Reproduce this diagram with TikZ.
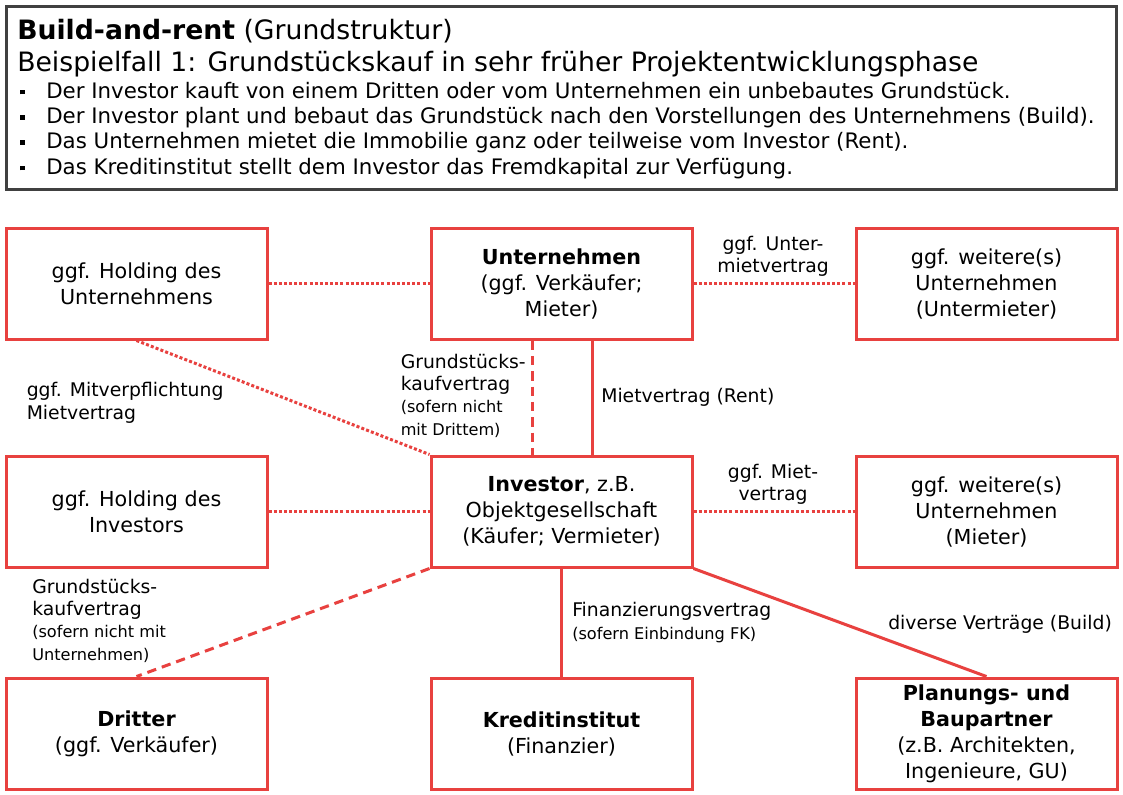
\documentclass[tikz,border=0pt]{standalone}
\usepackage{fontspec}
\setmainfont{DejaVu Sans}
\definecolor{cred}{HTML}{E8413F}
\definecolor{cframe}{HTML}{404040}
\newcommand{\myboxfont}{\fontsize{15.5}{19.5}\selectfont}
\newcommand{\mylabfont}{\fontsize{14.1}{16.6}\selectfont}
\newcommand{\mysmfont}{\fontsize{12.1}{14.5}\selectfont}
\newcommand{\mytitlefont}{\fontsize{20}{24}\selectfont}
\newcommand{\mybulfont}{\fontsize{16}{19}\selectfont}
\newcommand{\mybul}{\makebox[19.5pt][l]{\rule[2.8pt]{3.5pt}{3.5pt}}}
\begin{document}
\begin{tikzpicture}[x=0.75pt,y=-0.75pt,
  box/.style={draw=cred,line width=2.25pt,minimum width=195.75pt,minimum height=83.25pt,inner sep=0pt,align=center,font=\myboxfont},
  con/.style={draw=cred,line width=2.25pt},
  dotline/.style={con,dash pattern=on 2.25pt off 1.6pt},
  dashline/.style={con,dash pattern=on 7pt off 4.5pt},
  lab/.style={inner sep=0pt,align=left,font=\mylabfont},
  labc/.style={inner sep=0pt,align=center,font=\mylabfont},
  hd/.style={inner sep=0pt,anchor=base west}]
\useasboundingbox[fill=white] (0,0) rectangle (1123,794);

% header
\draw[cframe,line width=2.25pt] (6.5,6.5) rectangle (1116.5,189.5);
\node[hd,font=\mytitlefont] (t1) at (17,39) {\textbf{Build-and-rent} (Grundstruktur)};
\node[hd,font=\mytitlefont] (t2) at (17,71) {Beispielfall 1: Grundstückskauf in sehr früher Projektentwicklungsphase};
\node[hd,font=\mybulfont] (b1) at (20,98) {\mybul Der Investor kauft von einem Dritten oder vom Unternehmen ein unbebautes Grundstück.};
\node[hd,font=\mybulfont] (b2) at (20,123.3) {\mybul Der Investor plant und bebaut das Grundstück nach den Vorstellungen des Unternehmens (Build).};
\node[hd,font=\mybulfont] (b3) at (20,148.6) {\mybul Das Unternehmen mietet die Immobilie ganz oder teilweise vom Investor (Rent).};
\node[hd,font=\mybulfont] (b4) at (20,174) {\mybul Das Kreditinstitut stellt dem Investor das Fremdkapital zur Verfügung.};

% boxes
\node[box] (holdu) at (136.5,283.5) {ggf. Holding des\\Unternehmens};
\node[box] (unt) at (561.5,283.5) {\textbf{Unternehmen}\\(ggf. Verkäufer;\\Mieter)};
\node[box] (weitu) at (986.5,283.5) {ggf. weitere(s)\\Unternehmen\\(Untermieter)};
\node[box] (holdi) at (136.5,511.5) {ggf. Holding des\\Investors};
\node[box] (inv) at (561.5,511.5) {\textbf{Investor}, z.B.\\Objektgesellschaft\\(Käufer; Vermieter)};
\node[box] (weitm) at (986.5,511.5) {ggf. weitere(s)\\Unternehmen\\(Mieter)};
\node[box] (dritter) at (136.5,733.5) {\textbf{Dritter}\\(ggf. Verkäufer)};
\node[box] (kredit) at (561.5,733.5) {\textbf{Kreditinstitut}\\(Finanzier)};
\node[box] (plan) at (986.5,733.5) {\textbf{Planungs- und}\\\textbf{Baupartner}\\(z.B. Architekten,\\Ingenieure, GU)};

% connectors
\draw[dotline] (holdu.east) -- (unt.west);
\draw[dotline] (unt.east) -- (weitu.west);
\draw[dotline] (holdi.east) -- (inv.west);
\draw[dotline] (inv.east) -- (weitm.west);
\draw[dotline] (holdu.south) -- (inv.north west);
\draw[dashline] ([xshift=-22pt]unt.south) -- ([xshift=-22pt]inv.north);
\draw[con] ([xshift=23pt]unt.south) -- ([xshift=23pt]inv.north);
\draw[dashline] (inv.south west) -- (dritter.north);
\draw[con] (inv.south) -- (kredit.north);
\draw[con] (inv.south east) -- (plan.north);

% labels (base anchor = baseline of last line)
\node[lab,anchor=base west] (lmit) at (26.5,419) {ggf. Mitverpflichtung\\Mietvertrag};
\node[lab,anchor=base west] (lgk) at (400.5,435) {Grundstücks-\\kaufvertrag\\\mysmfont (sofern nicht\\\mysmfont mit Drittem)};
\node[lab,anchor=base west] (lmiet) at (601,402) {Mietvertrag (Rent)};
\node[labc] (luntm) at (773,256) {ggf. Unter-\\mietvertrag};
\node[labc] (lmietv) at (773,484) {ggf. Miet-\\vertrag};
\node[lab,anchor=base west] (lgk2) at (32,660) {Grundstücks-\\kaufvertrag\\\mysmfont (sofern nicht mit\\\mysmfont Unternehmen)};
\node[lab,anchor=base west] (lfin) at (572,639) {Finanzierungsvertrag\\\mysmfont (sofern Einbindung FK)};
\node[lab,anchor=base west] (ldiv) at (888,629) {diverse Verträge (Build)};
\end{tikzpicture}
\end{document}
